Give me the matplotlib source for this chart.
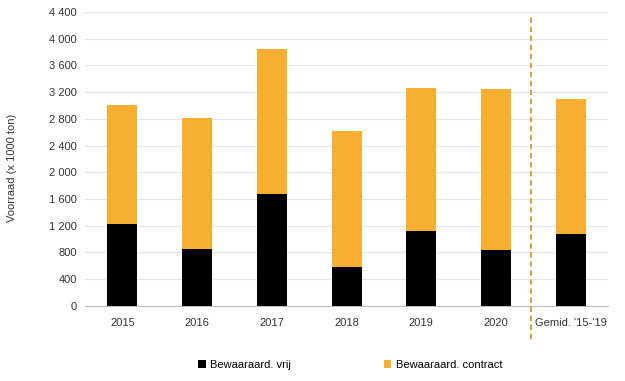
import matplotlib
matplotlib.use('Agg')
import matplotlib.pyplot as plt
from matplotlib.ticker import FuncFormatter

plt.rcParams['font.family'] = ['Liberation Sans', 'DejaVu Sans']

# Gegevens (x 1000 ton)
categories = ['2015', '2016', '2017', '2018', '2019', '2020', "Gemid. '15-'19"]
vrij = [1220, 850, 1680, 590, 1115, 840, 1080]
contract_total = [3000, 2810, 3850, 2615, 3265, 3245, 3100]
contract = [t - v for t, v in zip(contract_total, vrij)]

BLACK = '#000000'
ORANGE = '#F7AF32'
DASH = '#E0952A'

fig = plt.figure(figsize=(6.25, 3.81), dpi=100)
ax = fig.add_axes([0.136, 0.197, 0.837, 0.772])

x = list(range(len(categories)))
ax.bar(x, vrij, width=0.4, color=BLACK, label='Bewaaraard. vrij', zorder=3)
ax.bar(x, contract, width=0.4, bottom=vrij, color=ORANGE,
       label='Bewaaraard. contract', zorder=3)

# scheidingslijn tussen 2020 en het gemiddelde (loopt door tot onder de labels)
ax.plot([5.47, 5.47], [-0.112, 0.99], transform=ax.get_xaxis_transform(),
        color=DASH, linestyle=(0, (3, 2)), linewidth=1.3, clip_on=False, zorder=4)

ax.set_xlim(-0.5, 6.5)
ax.set_ylim(0, 4400)
ax.set_yticks(range(0, 4401, 400))
ax.yaxis.set_major_formatter(FuncFormatter(lambda v, p: f'{int(v):,}'.replace(',', ' ')))
ax.set_xticks(x)
ax.set_xticklabels(categories)

ax.grid(axis='y', color='#E6E6E6', linewidth=0.8, zorder=0)
for s in ['left', 'right', 'top']:
    ax.spines[s].set_visible(False)
ax.spines['bottom'].set_color('#BFBFBF')
ax.tick_params(axis='both', length=0, labelsize=8, colors='#333333', pad=6)
ax.tick_params(axis='x', pad=9)

ax.set_ylabel('Voorraad (x 1000 ton)', fontsize=8, color='#333333', labelpad=20)
ax.yaxis.set_label_coords(-0.13, 0.47)

ax.legend(loc='upper center', bbox_to_anchor=(0.507, -0.15), ncol=2, frameon=False,
          fontsize=8, handlelength=0.7, handleheight=0.7, columnspacing=8.3,
          handletextpad=0.4)

fig.savefig('out.png', dpi=100)
